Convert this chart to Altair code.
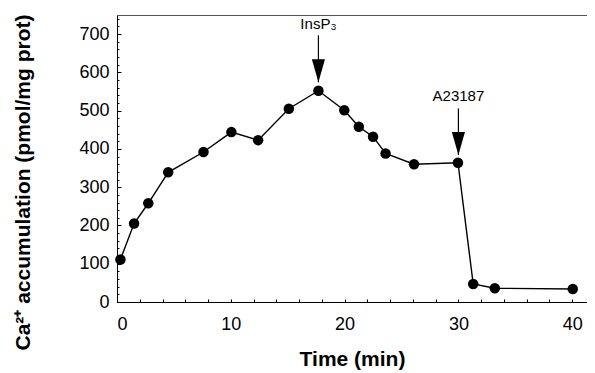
import altair as alt
import pandas as pd

# data
time_min = [0.3, 1.5, 2.75, 4.5, 7.6, 10.05, 12.4, 15.1, 17.7, 19.97, 21.25, 22.5, 23.6, 26.1, 29.96, 31.3, 33.2, 40.05]
ca_accum = [111, 205, 258, 339, 392, 444, 423, 505, 552, 501, 458, 432, 388, 360, 364, 47, 36, 34]

arrow_x = [17.7, 30.0]
arrow_top = [697, 506]
arrow_tip = [574, 384]
arrow_label_y = [705, 517]
arrow_labels = ["InsP\u2083", "A23187"]

x_major = [0, 10, 20, 30, 40]
x_minor = list(range(0, 42, 2))
y_major = list(range(0, 800, 100))
y_minor = list(range(0, 760, 20))

FONT = "Liberation Sans"
X_DOM = [0, 41.3]
Y_DOM = [0, 750]

df = pd.DataFrame({"t": time_min, "ca": ca_accum})
arr = pd.DataFrame({"x": arrow_x, "top": arrow_top, "tip": arrow_tip,
                    "ly": arrow_label_y, "label": arrow_labels})

xs = alt.Scale(domain=X_DOM, nice=False, zero=False)
ys = alt.Scale(domain=Y_DOM, nice=False)

line = alt.Chart(df).mark_line(color="black", strokeWidth=1.4).encode(
    x=alt.X("t:Q", scale=xs, axis=alt.Axis(
        values=x_major, tickSize=0, labelPadding=13, labelFontSize=18,
        labelFont=FONT, labelColor="black", domainColor="black",
        title="Time (min)", titleFont=FONT, titleFontSize=21,
        titleFontWeight="bold", titlePadding=15, titleColor="black",
        grid=False, orient="bottom")),
    y=alt.Y("ca:Q", scale=ys, axis=alt.Axis(
        values=y_major, tickSize=0, labelPadding=8, labelFontSize=18,
        labelFont=FONT, labelColor="black", domainColor="black",
        title="Ca\u00b2\u207a accumulation (pmol/mg prot)", titleFont=FONT,
        titleFontSize=21, titleFontWeight="bold", titlePadding=45,
        titleColor="black", titleY=167, grid=False, orient="left")),
)

points = alt.Chart(df).mark_circle(color="black", opacity=1, size=110).encode(
    x=alt.X("t:Q", scale=xs, axis=alt.Axis(
        values=x_minor, tickSize=3, offset=-3, labels=False, domain=False,
        title=None, grid=False, tickColor="black", orient="bottom")),
    y=alt.Y("ca:Q", scale=ys, axis=alt.Axis(
        values=y_major, tickSize=4, offset=-4, labels=False, domain=False,
        title=None, grid=False, tickColor="black", orient="left")),
)

minor = alt.Chart(df).mark_point(opacity=0).encode(
    x=alt.X("t:Q", scale=xs, axis=alt.Axis(
        ticks=False, labels=False, domain=True, domainColor="#555",
        title=None, grid=False, orient="top")),
    y=alt.Y("ca:Q", scale=ys, axis=alt.Axis(
        values=y_minor, tickSize=2, offset=-2, labels=False, domain=False,
        title=None, grid=False, tickColor="black", orient="left")),
)

shaft = alt.Chart(arr).mark_rule(color="black", strokeWidth=1.2).encode(
    x=alt.X("x:Q", scale=xs, axis=None),
    y=alt.Y("top:Q", scale=ys, axis=None),
    y2="tip:Q",
)

head = alt.Chart(arr).mark_point(
    shape="M-0.57,-2L0.57,-2L0,0Z", filled=True, color="black", opacity=1,
    size=529, strokeWidth=0).encode(
    x=alt.X("x:Q", scale=xs, axis=None),
    y=alt.Y("tip:Q", scale=ys, axis=None),
)

labels = alt.Chart(arr).mark_text(
    font=FONT, fontSize=15, color="black", baseline="bottom", align="center").encode(
    x=alt.X("x:Q", scale=xs, axis=None),
    y=alt.Y("ly:Q", scale=ys, axis=None),
    text="label:N",
)

chart = alt.layer(line, points, minor, shaft, head, labels).resolve_scale(
    x="shared", y="shared").resolve_axis(x="independent", y="independent").properties(
    width=470, height=287, autosize="none",
    padding={"left": 109, "top": 7, "right": 0, "bottom": 68},
).configure_view(stroke=None)

chart.save("out.html", embed_options={"renderer": "svg", "actions": False})
